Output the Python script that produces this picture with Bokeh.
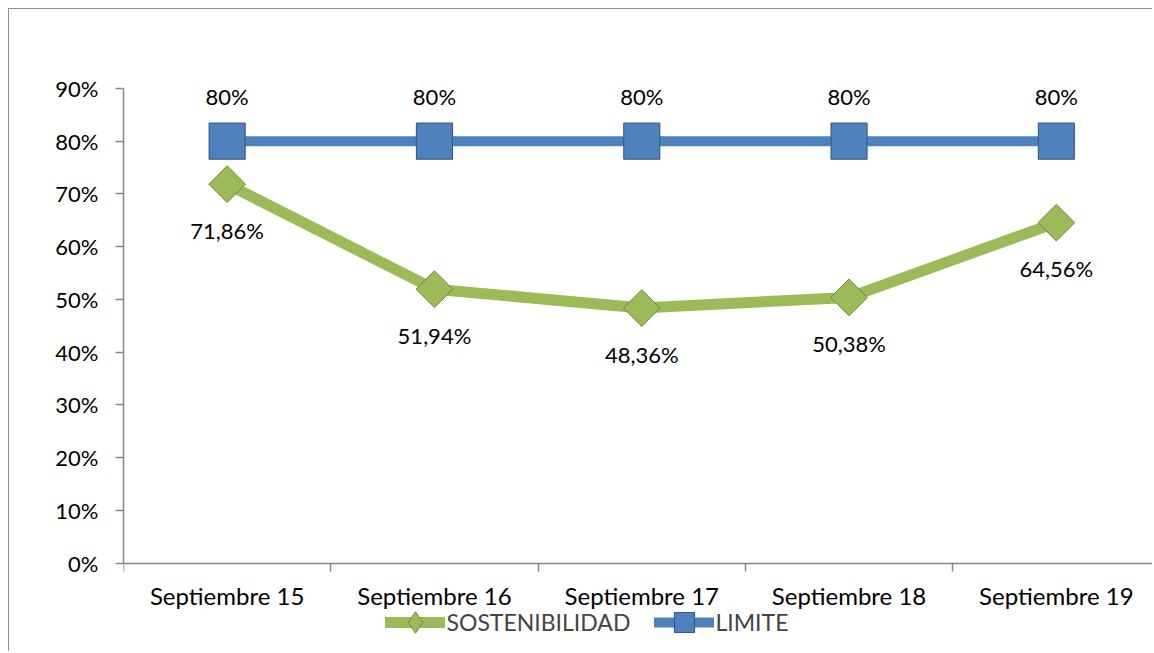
import numpy as np
from bokeh.plotting import figure
from bokeh.models import (ColumnDataSource, Range1d, FixedTicker, NumeralTickFormatter,
                          LabelSet, Legend, LegendItem)
from bokeh.core.properties import value
from bokeh.embed import file_html
from bokeh.resources import INLINE

categories = ["Septiembre 15", "Septiembre 16", "Septiembre 17", "Septiembre 18", "Septiembre 19"]
sostenibilidad = [71.86, 51.94, 48.36, 50.38, 64.56]
limite = [80, 80, 80, 80, 80]
y_ticks = [0, 10, 20, 30, 40, 50, 60, 70, 80, 90]

FONT = "Lato"

# layout (page pixels)
ORG = 9.5            # figure origin on page (8px margin + border)
W, H = 1144, 643
FL, FT = 123.5, 88.5  # frame left / top on page (90% line)
Y0 = 563.0            # 0% line on page
STEP = 207.3          # px per category
frame_w = ORG + W - FL
frame_bottom = ORG + H
ppu = (Y0 - FT) / 0.9
y_start = -(frame_bottom - Y0) / ppu

xs = list(range(len(categories)))
src = ColumnDataSource(dict(
    x=xs,
    sost=[v / 100 for v in sostenibilidad],
    lim=[v / 100 for v in limite],
    sost_lbl=[f"{v:.2f}%".replace(".", ",") for v in sostenibilidad],
    lim_lbl=[f"{v:.0f}%" for v in limite],
))

p = figure(width=W, height=H, output_backend="svg", toolbar_location=None,
           x_range=Range1d(-0.5, -0.5 + frame_w / STEP), y_range=Range1d(y_start, 0.9),
           min_border_left=int(round(FL - ORG)), min_border_right=0,
           min_border_top=int(round(FT - ORG)), min_border_bottom=0)
p.styles = {"margin-left": "8px", "margin-top": "8px",
            "border-left": "1.5px solid #8e8e8e", "border-top": "1.5px solid #8e8e8e"}
p.outline_line_color = None
p.xgrid.visible = False
p.ygrid.visible = False

AX = "#868686"
yax = p.yaxis[0]
yax.ticker = FixedTicker(ticks=[t / 100 for t in y_ticks])
yax.formatter = NumeralTickFormatter(format="0%")
yax.bounds = (0, 0.9)
yax.axis_line_color = AX
yax.axis_line_width = 1.5
yax.major_tick_line_color = AX
yax.major_tick_line_width = 1.5
yax.major_tick_out = 8
yax.major_tick_in = 0
yax.minor_tick_line_color = None
yax.major_label_text_font = FONT
yax.major_label_text_font_size = "22px"
yax.major_label_text_color = "black"
yax.major_label_standoff = 17

xax = p.xaxis[0]
xax.fixed_location = 0
xax.bounds = (-0.5, len(categories) - 0.5)
xax.ticker = FixedTicker(ticks=xs, minor_ticks=[i - 0.5 for i in range(len(categories) + 1)])
xax.major_label_overrides = {i: c for i, c in enumerate(categories)}
xax.axis_line_color = AX
xax.axis_line_width = 1.5
xax.major_tick_line_color = None
xax.major_tick_out = 8
xax.minor_tick_line_color = AX
xax.minor_tick_line_width = 1.5
xax.minor_tick_out = 8
xax.minor_tick_in = 0
xax.major_label_text_font = FONT
xax.major_label_text_font_size = "24px"
xax.major_label_text_color = "black"
xax.major_label_standoff = 10

GREEN, GREEN_D = "#9BBB59", "#71893F"
BLUE, BLUE_D = "#4F81BD", "#385D8A"

l_sost = p.line("x", "sost", source=src, line_color=GREEN, line_width=11, line_cap="round", line_join="round")
l_lim = p.line("x", "lim", source=src, line_color=BLUE, line_width=10, line_cap="round", line_join="round")

# diamond marker used for the legend swatch (hidden beneath the rotated squares)
m_sost_leg = p.scatter("x", "sost", source=src, marker="diamond", size=24,
                       fill_color=GREEN, line_color=GREEN_D, line_width=1)
m_sost = p.scatter("x", "sost", source=src, marker="square", angle=np.pi / 4, size=26,
                   fill_color=GREEN, line_color=GREEN_D, line_width=1)
m_lim = p.scatter("x", "lim", source=src, marker="square", size=36,
                  fill_color=BLUE, line_color=BLUE_D, line_width=1.2)

p.add_layout(LabelSet(x="x", y="lim", text="lim_lbl", source=src, y_offset=45,
                      text_align="center", text_baseline="middle",
                      text_font=value(FONT), text_font_size="22px", text_color="black"))
p.add_layout(LabelSet(x="x", y="sost", text="sost_lbl", source=src, y_offset=-46,
                      text_align="center", text_baseline="middle",
                      text_font=value(FONT), text_font_size="22px", text_color="black"))

LEG_Y = frame_bottom - 622  # legend centre above frame bottom
leg1 = Legend(items=[LegendItem(label="SOSTENIBILIDAD", renderers=[l_sost, m_sost_leg])],
              location=(385 - FL, LEG_Y - 27), orientation="horizontal", glyph_width=60, glyph_height=54,
              label_standoff=2, padding=0, margin=0, border_line_color=None,
              background_fill_alpha=0, label_text_font=FONT, label_text_font_size="23px")
leg2 = Legend(items=[LegendItem(label="LIMITE", renderers=[l_lim, m_lim])],
              location=(654 - FL, LEG_Y - 25), orientation="horizontal", glyph_width=60, glyph_height=50,
              label_standoff=2, padding=0, margin=0, border_line_color=None,
              background_fill_alpha=0, label_text_font=FONT, label_text_font_size="23px")
p.add_layout(leg1, "center")
p.add_layout(leg2, "center")

open("out.html", "w").write(file_html(p, INLINE))
